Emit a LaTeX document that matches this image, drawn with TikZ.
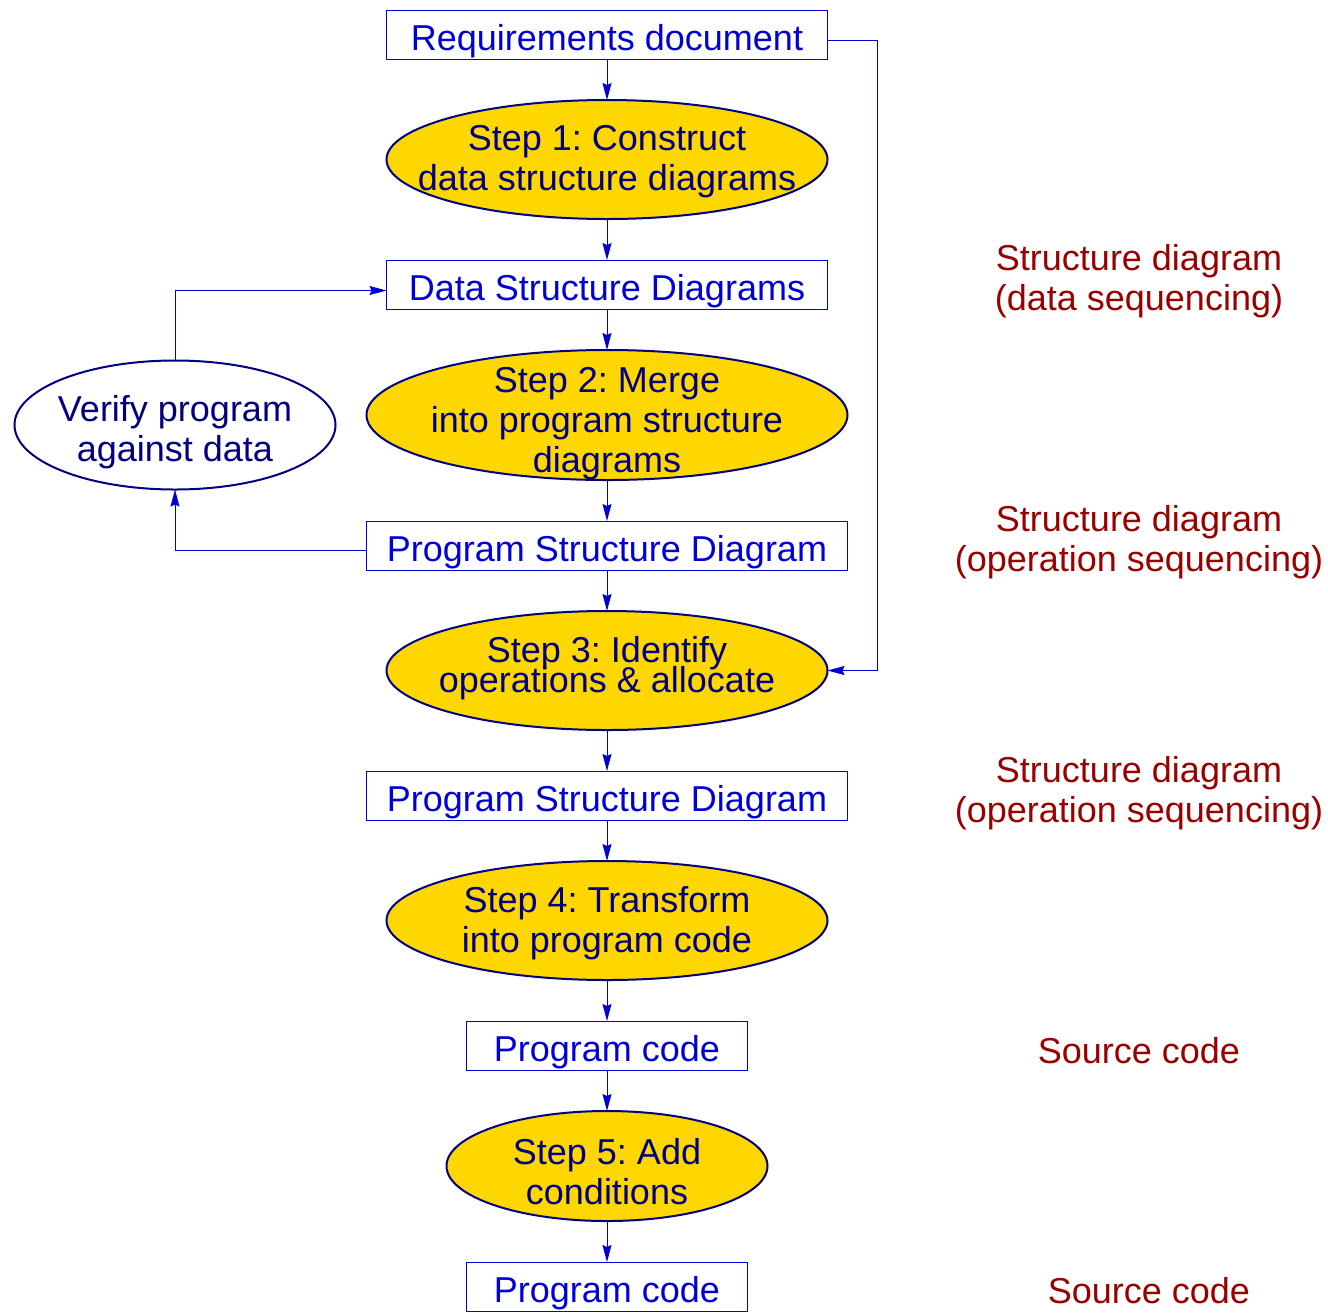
\documentclass[tikz,border=0pt]{standalone}
\usepackage{fontspec}
\setmainfont{Liberation Sans}
\frenchspacing
\usetikzlibrary{positioning,shapes.geometric,arrows.meta}
\definecolor{flowblue}{RGB}{0,0,215}
\definecolor{stepnavy}{RGB}{0,0,128}
\definecolor{stepgold}{RGB}{255,215,0}
\definecolor{notered}{RGB}{153,0,0}

\begin{document}
\begin{tikzpicture}[x=0.5pt,y=-0.5pt,node distance=20.5pt,
  every node/.style={font=\fontsize{18}{20}\selectfont},
  flow/.style={draw=flowblue,line width=0.5pt,-{Stealth[length=8.5pt,width=4.5pt,inset=1pt]}},
  doc node/.style={rectangle,draw=flowblue,line width=0.5pt,text=flowblue,inner sep=0pt,outer sep=0pt,
                   minimum height=24.5pt,text height=15.5pt,text depth=0pt},
  step node/.style={ellipse,draw=stepnavy,line width=1pt,fill=stepgold,inner sep=0pt,outer sep=0pt},
  step text/.style={text=stepnavy,align=center,inner sep=0pt},
  note/.style={text=notered,align=center}]
    \useasboundingbox (0,0) rectangle (1328,1313);

    \node[doc node, minimum width=220.5pt] (req) at (607,34.5) {Requirements document};
    \node[step node, minimum width=220.5pt, minimum height=59.5pt, below=of req,
          label={[step text, yshift=-1pt]center:{Step 1: Construct\\data structure diagrams}}] (s1) {};
    \node[doc node, minimum width=220.5pt, below=of s1] (dsd) {Data Structure Diagrams};
    \node[step node, minimum width=240.5pt, minimum height=65pt, below=of dsd,
          label={[step text, yshift=-4.5pt]center:{Step 2: Merge\\into program structure\\diagrams}}] (s2) {};
    \node[doc node, minimum width=240.5pt, below=of s2] (psd1) {Program Structure Diagram};
    \node[step node, minimum width=220.5pt, minimum height=59.5pt, below=of psd1,
          label={[step text, yshift=1pt]center:{Step 3: Identify\\[-5pt]operations \& allocate}}] (s3) {};
    \node[doc node, minimum width=240.5pt, below=of s3] (psd2) {Program Structure Diagram};
    \node[step node, minimum width=220.5pt, minimum height=59.5pt, below=of psd2,
          label={[step text, yshift=-1.5pt]center:{Step 4: Transform\\into program code}}] (s4) {};
    \node[doc node, minimum width=140.5pt, below=of s4] (code1) {Program code};
    \node[step node, minimum width=160.5pt, minimum height=55pt, below=of code1,
          label={[step text, yshift=-3pt]center:{Step 5: Add\\conditions}}] (s5) {};
    \node[doc node, minimum width=140.5pt, below=of s5] (code2) {Program code};

    \node[step node, fill=white, minimum width=160.5pt, minimum height=64.5pt, left=15.5pt of s2, yshift=-5pt,
          label={[step text, yshift=-3.5pt]center:{Verify program\\against data}}] (verify) {};

    % notes on the right
    \node[note] (n1) at (1139,281) {Structure diagram\\(data sequencing)};
    \node[note] (n2) at (1139,542) {Structure diagram\\(operation sequencing)};
    \node[note] (n3) at (1139,793) {Structure diagram\\(operation sequencing)};
    \node[note] (n4) at (1139,1051) {Source code};
    \node[note] (n5) at (1149,1291) {Source code};

    \path[every edge/.style={flow}]
        (req) edge (s1)
        (s1) edge (dsd)
        (dsd) edge (s2)
        (s2) edge (psd1)
        (psd1) edge (s3)
        (s3) edge (psd2)
        (psd2) edge (s4)
        (s4) edge (code1)
        (code1) edge (s5)
        (s5) edge (code2);

    \draw[flow] ([yshift=-2.5pt]psd1.west) -| (verify.south);
    \draw[flow] (verify.north) |- ([yshift=-3pt]dsd.west);
    \draw[flow] ([yshift=-2.75pt]req.east) -- ++(25pt,0) |- (s3.east);
\end{tikzpicture}
\end{document}
